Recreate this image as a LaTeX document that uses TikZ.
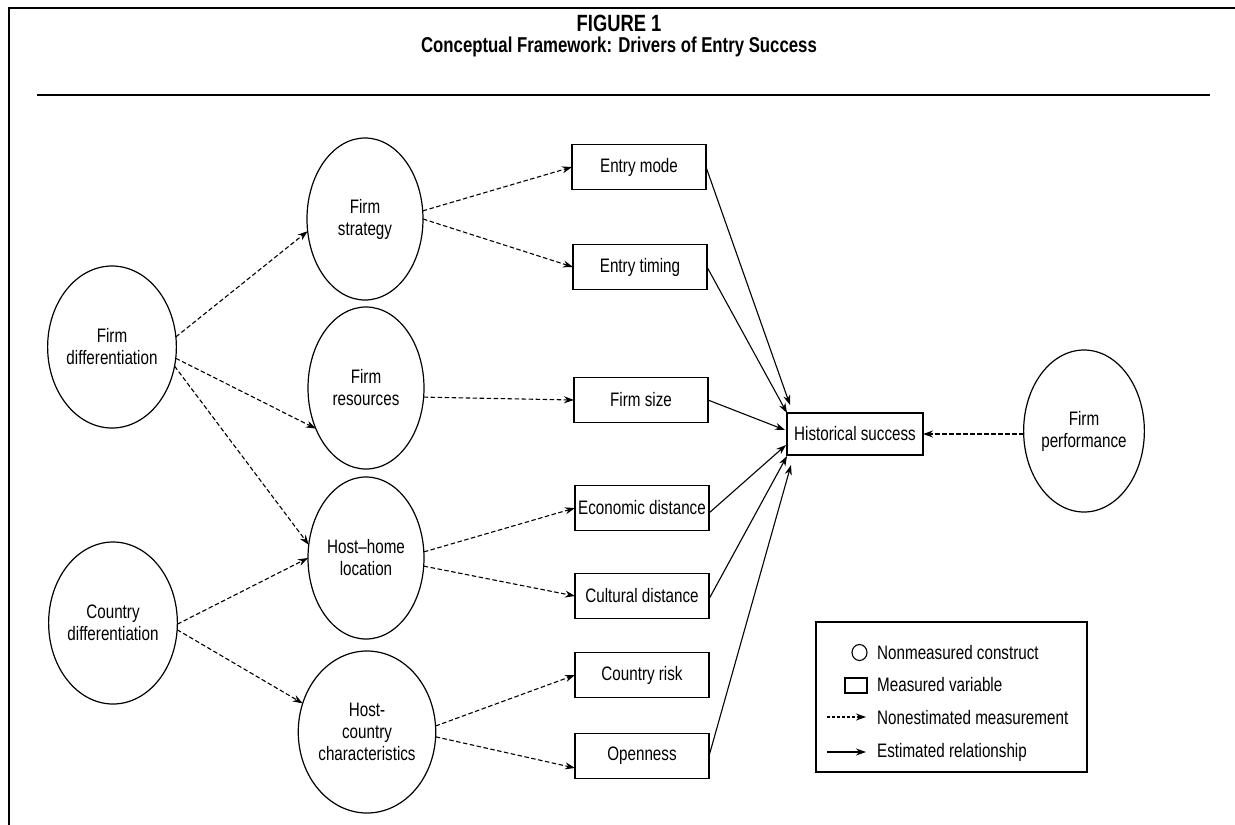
\documentclass[tikz,border=0pt]{standalone}
\usepackage{fontspec}
\setmainfont[FakeStretch=0.78]{Liberation Sans}
\usetikzlibrary{shapes.geometric,arrows.meta,calc}
\begin{document}
\begin{tikzpicture}[x=1pt,y=-1pt,
  every node/.style={font=\fontsize{19.5}{22}\selectfont},
  construct/.style={ellipse,draw,line width=1.2pt,minimum width=116pt,minimum height=162pt,align=center,inner sep=0pt,outer sep=0pt},
  measured/.style={rectangle,draw,line width=1.3pt,minimum width=134pt,minimum height=45pt,inner sep=0pt,outer sep=0pt},
  nonest/.style={-{Stealth[length=10pt,width=7pt]},line width=1.1pt,dash pattern=on 4.5pt off 2.5pt},
  estim/.style={-{Stealth[length=10pt,width=7pt]},line width=1.1pt},
  frameline/.style={line width=2pt},
  titlefont/.style={font=\bfseries\fontsize{21.5}{24}\selectfont},
  legtext/.style={anchor=base west,inner sep=0pt}
]
\fill[white] (0,0) rectangle (1235,825);
\useasboundingbox (0,0) rectangle (1235,825);

% frame and rule
\coordinate (fbl) at (9,825);
\coordinate (ftl) at (9,7.7);
\coordinate (ftr) at (1235,7.7);
\draw[frameline] (fbl) -- (ftl) -- (ftr);
\coordinate (rl) at (37,95);
\coordinate (rr) at (1210,95);
\draw[line width=2.6pt] (rl) -- (rr);

% title
\node[titlefont,font=\bfseries\fontsize{23.5}{26}\selectfont] (t1) at (619,23) {FIGURE 1};
\node[titlefont] (t2) at (619,47) {Conceptual Framework: Drivers of Entry Success};

% constructs
\node[construct] (fd) at (112,347) {Firm\\differentiation};
\node[construct] (cd) at (113,623) {Country\\differentiation};
\node[construct] (fs) at (365,219) {Firm\\strategy};
\node[construct] (fr) at (366,388) {Firm\\resources};
\node[construct] (hh) at (366,558) {Host–home\\location};
\node[construct] (hc) at (367,732) {Host-\\country\\characteristics};
\node[construct] (fp) at (1084,431) {Firm\\performance};

% measured variables
\node[measured] (em) at (639,167) {Entry mode};
\node[measured] (et) at (640,267) {Entry timing};
\node[measured] (fsz) at (641,400) {Firm size};
\node[measured] (ed) at (642,508) {Economic distance};
\node[measured] (cud) at (642,596) {Cultural distance};
\node[measured] (cr) at (642,675) {Country risk};
\node[measured] (op) at (642,756) {Openness};
\node[measured,minimum width=136pt,minimum height=42pt] (hs) at (855,434) {Historical success};

% nonestimated measurement
\draw[nonest] (fd.9) -- (fs.192);
\draw[nonest] (fd.-10) -- (fr.219);
\draw[nonest] (fd.-17) -- (hh.167);
\draw[nonest] (cd.-1) -- (hh.180);
\draw[nonest] (cd.-6) -- (hc.156);
\draw[nonest] (fs.8) -- (em.west);
\draw[nonest] (fs.0) -- (et.west);
\draw[nonest] (fr.-9) -- (fsz.west);
\draw[nonest] (hh.6) -- (ed.west);
\draw[nonest] (hh.-8) -- (cud.west);
\draw[nonest] (hc.5) -- (cr.west);
\draw[nonest] (hc.-4) -- ($(op.west)+(0,12)$);
\draw[nonest] (hs.east -| fp.west) -- (hs.east);

% estimated relationships
\draw[estim] (em.east) -- ($(hs.west)+(3,-29)$);
\draw[estim] (et.east) -- ($(hs.west)+(0,-21)$);
\draw[estim] (fsz.east) -- ($(hs.west)+(-2,-4)$);
\draw[estim] ($(ed.east)+(0,5)$) -- ($(hs.west)+(-1,11)$);
\draw[estim] ($(cud.east)+(0,3)$) -- ($(hs.west)+(0,22)$);
\draw[estim] (op.east) -- ($(hs.west)+(4,31)$);

% legend
\node[draw,line width=1.2pt,minimum width=271pt,minimum height=150pt,inner sep=0pt] (leg) at (951.5,697) {};
\node[ellipse,draw,line width=1.1pt,minimum width=15pt,minimum height=16pt,inner sep=0pt] (lc) at (859.5,652.5) {};
\node[rectangle,draw,line width=1.1pt,minimum width=22pt,minimum height=15pt,inner sep=0pt] (lr) at (856,685.5) {};
\coordinate (la1) at (827,717);
\coordinate (la2) at (866,717);
\draw[nonest,dash pattern=on 3pt off 2pt] (la1) -- (la2);
\coordinate (lb1) at (827,752);
\coordinate (lb2) at (866,752);
\draw[estim] (lb1) -- (lb2);
\node[legtext] (lt1) at (877,659) {Nonmeasured construct};
\node[legtext] (lt2) at (877,691) {Measured variable};
\node[legtext] (lt3) at (877,724) {Nonestimated measurement};
\node[legtext] (lt4) at (877,757) {Estimated relationship};
\end{tikzpicture}
\end{document}
